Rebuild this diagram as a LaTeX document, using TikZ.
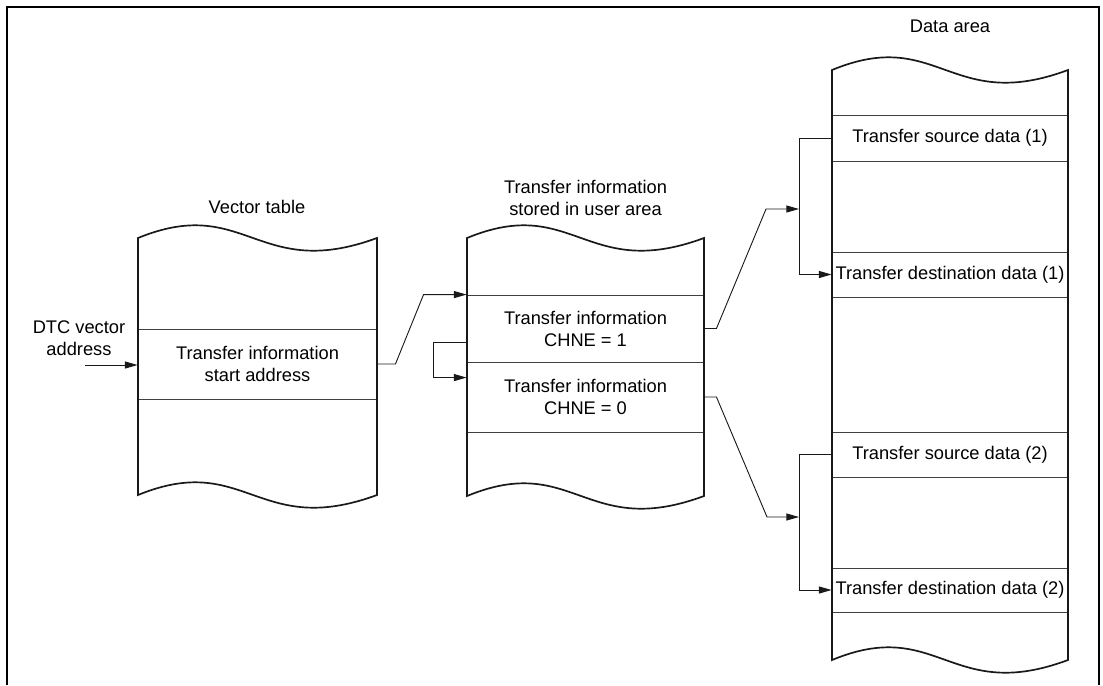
\documentclass[tikz,border=0pt]{standalone}
\usepackage{fontspec}
\setmainfont{Liberation Sans}
\usetikzlibrary{arrows.meta,calc}

% memory column with wavy top and bottom: left, right, top, bottom
\newcommand{\memcol}[4]{%
  \draw[colline] (#1,#3) .. controls ({#1+0.45*(#2-#1)},{#3-44}) and ({#1+0.5*(#2-#1)},{#3+44}) .. (#2,#3)
    -- (#2,#4) .. controls ({#1+0.5*(#2-#1)},{#4+44}) and ({#1+0.45*(#2-#1)},{#4-44}) .. (#1,#4) -- cycle;}

\tikzset{
  colline/.style={line width=1.2pt, black!90},
  rowbox/.style={draw=black!75, line width=0.6pt, inner sep=0pt, align=center},
  link/.style={line width=0.65pt, black!90, -{Triangle[length=9pt,width=5pt]}},
}

\begin{document}
\begin{tikzpicture}[x=0.025cm, y=-0.025cm,
    every node/.style={font=\fontsize{13}{15.6}\selectfont}]
  \useasboundingbox (0,0) rectangle (1103,685);
  \draw[line width=1.5pt] (7,685) -- (7,7) -- (1099,7) -- (1099,685);

  % vector table
  \node (vttitle) at (257,207) {Vector table};
  \node[rowbox, minimum width=5.975cm, minimum height=1.75cm]
        (vt) at (257.5,364) {Transfer information\\start address};
  \memcol{138}{377}{238}{495}

  % transfer information in user area
  \node[align=center] (uititle) at (585.5,198) {Transfer information\\stored in user area};
  \node[rowbox, minimum width=5.925cm, minimum height=1.675cm]
        (ui1) at (585.5,328.5) {Transfer information\\CHNE = 1};
  \node[rowbox, minimum width=5.925cm, minimum height=1.75cm]
        (ui2) at (585.5,397) {Transfer information\\CHNE = 0};
  \memcol{467}{704}{238}{496}

  % data area
  \node (datitle) at (950,26) {Data area};
  \node[rowbox, minimum width=5.9cm, minimum height=1.15cm]
        (da1) at (950,138) {Transfer source data (1)};
  \node[rowbox, minimum width=5.9cm, minimum height=1.125cm]
        (da2) at (950,274.5) {Transfer destination data (1)};
  \node[rowbox, minimum width=5.9cm, minimum height=1.125cm]
        (da3) at (950,454.5) {Transfer source data (2)};
  \node[rowbox, minimum width=5.9cm, minimum height=1.1cm]
        (da4) at (950,590) {Transfer destination data (2)};
  \memcol{832}{1068}{70}{660}

  % connectors
  \node[align=center] (dtc) at (79,338) {DTC vector\\address};
  \coordinate (dtcin) at (85,365);
  \draw[link] (dtcin) -- (dtcin -| vt.west);
  \draw[link] (vt.east) -- ++(18,0) -- ($(ui1.north west)+(-43,0)$) -- (ui1.north west);
  \draw[link] ($(ui1.south west)+(0,-20)$) -- ++(-33,0) |- ($(ui2.north west)+(0,16)$);
  \coordinate (br1) at (799,209);
  \coordinate (br2) at (799,517);
  \draw[link] (ui1.east) -- ++(12,0) -- ($(br1)+(-33,0)$) -- (br1);
  \draw[link] (ui2.east) -- ++(12,0) -- ($(br2)+(-32,0)$) -- (br2);
  \draw[link] (da1.west) -| (br1) |- (da2.west);
  \draw[link] (da3.west) -| (br2) |- (da4.west);
\end{tikzpicture}
\end{document}
